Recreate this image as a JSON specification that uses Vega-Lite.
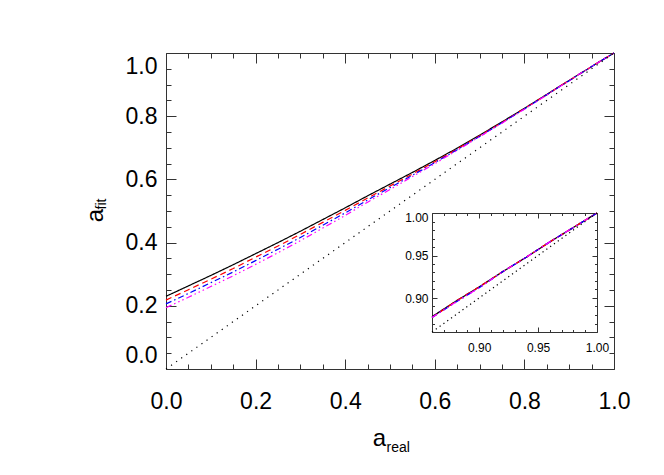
{
  "$schema": "https://vega.github.io/schema/vega-lite/v6.json",
  "width": 448,
  "height": 316,
  "autosize": "none",
  "padding": {"left": 166, "top": 53, "right": 50, "bottom": 106},
  "background": "white",
  "config": {"view": {"stroke": null}},
  "datasets": {
    "curves": [
      {"x":0,"y":0.230,"s":"A"},{"x":0.05,"y":0.263,"s":"A"},{"x":0.1,"y":0.296,"s":"A"},{"x":0.15,"y":0.330,"s":"A"},{"x":0.2,"y":0.365,"s":"A"},{"x":0.25,"y":0.400,"s":"A"},{"x":0.3,"y":0.436,"s":"A"},{"x":0.35,"y":0.473,"s":"A"},{"x":0.4,"y":0.510,"s":"A"},{"x":0.45,"y":0.548,"s":"A"},{"x":0.5,"y":0.585,"s":"A"},{"x":0.55,"y":0.622,"s":"A"},{"x":0.6,"y":0.660,"s":"A"},{"x":0.65,"y":0.699,"s":"A"},{"x":0.7,"y":0.740,"s":"A"},{"x":0.75,"y":0.782,"s":"A"},{"x":0.8,"y":0.825,"s":"A"},{"x":0.85,"y":0.869,"s":"A"},{"x":0.86,"y":0.878,"s":"A"},{"x":0.88,"y":0.896,"s":"A"},{"x":0.9,"y":0.913,"s":"A"},{"x":0.92,"y":0.931,"s":"A"},{"x":0.94,"y":0.948,"s":"A"},{"x":0.96,"y":0.966,"s":"A"},{"x":0.98,"y":0.983,"s":"A"},{"x":1,"y":1,"s":"A"},
      {"x":0,"y":0.218,"s":"B"},{"x":0.05,"y":0.251,"s":"B"},{"x":0.1,"y":0.284,"s":"B"},{"x":0.15,"y":0.318,"s":"B"},{"x":0.2,"y":0.354,"s":"B"},{"x":0.25,"y":0.389,"s":"B"},{"x":0.3,"y":0.426,"s":"B"},{"x":0.35,"y":0.464,"s":"B"},{"x":0.4,"y":0.502,"s":"B"},{"x":0.45,"y":0.541,"s":"B"},{"x":0.5,"y":0.579,"s":"B"},{"x":0.55,"y":0.617,"s":"B"},{"x":0.6,"y":0.656,"s":"B"},{"x":0.65,"y":0.696,"s":"B"},{"x":0.7,"y":0.738,"s":"B"},{"x":0.75,"y":0.780,"s":"B"},{"x":0.8,"y":0.824,"s":"B"},{"x":0.85,"y":0.868,"s":"B"},{"x":0.86,"y":0.877,"s":"B"},{"x":0.88,"y":0.896,"s":"B"},{"x":0.9,"y":0.913,"s":"B"},{"x":0.92,"y":0.931,"s":"B"},{"x":0.94,"y":0.948,"s":"B"},{"x":0.96,"y":0.966,"s":"B"},{"x":0.98,"y":0.983,"s":"B"},{"x":1,"y":1,"s":"B"},
      {"x":0,"y":0.206,"s":"C"},{"x":0.05,"y":0.239,"s":"C"},{"x":0.1,"y":0.273,"s":"C"},{"x":0.15,"y":0.307,"s":"C"},{"x":0.2,"y":0.343,"s":"C"},{"x":0.25,"y":0.379,"s":"C"},{"x":0.3,"y":0.416,"s":"C"},{"x":0.35,"y":0.455,"s":"C"},{"x":0.4,"y":0.494,"s":"C"},{"x":0.45,"y":0.535,"s":"C"},{"x":0.5,"y":0.574,"s":"C"},{"x":0.55,"y":0.613,"s":"C"},{"x":0.6,"y":0.653,"s":"C"},{"x":0.65,"y":0.694,"s":"C"},{"x":0.7,"y":0.736,"s":"C"},{"x":0.75,"y":0.779,"s":"C"},{"x":0.8,"y":0.823,"s":"C"},{"x":0.85,"y":0.868,"s":"C"},{"x":0.86,"y":0.877,"s":"C"},{"x":0.88,"y":0.895,"s":"C"},{"x":0.9,"y":0.912,"s":"C"},{"x":0.92,"y":0.931,"s":"C"},{"x":0.94,"y":0.948,"s":"C"},{"x":0.96,"y":0.966,"s":"C"},{"x":0.98,"y":0.983,"s":"C"},{"x":1,"y":1,"s":"C"},
      {"x":0,"y":0.194,"s":"D"},{"x":0.05,"y":0.227,"s":"D"},{"x":0.1,"y":0.261,"s":"D"},{"x":0.15,"y":0.295,"s":"D"},{"x":0.2,"y":0.331,"s":"D"},{"x":0.25,"y":0.368,"s":"D"},{"x":0.3,"y":0.406,"s":"D"},{"x":0.35,"y":0.446,"s":"D"},{"x":0.4,"y":0.486,"s":"D"},{"x":0.45,"y":0.528,"s":"D"},{"x":0.5,"y":0.568,"s":"D"},{"x":0.55,"y":0.609,"s":"D"},{"x":0.6,"y":0.650,"s":"D"},{"x":0.65,"y":0.692,"s":"D"},{"x":0.7,"y":0.735,"s":"D"},{"x":0.75,"y":0.778,"s":"D"},{"x":0.8,"y":0.822,"s":"D"},{"x":0.85,"y":0.867,"s":"D"},{"x":0.86,"y":0.877,"s":"D"},{"x":0.88,"y":0.895,"s":"D"},{"x":0.9,"y":0.912,"s":"D"},{"x":0.92,"y":0.931,"s":"D"},{"x":0.94,"y":0.948,"s":"D"},{"x":0.96,"y":0.966,"s":"D"},{"x":0.98,"y":0.983,"s":"D"},{"x":1,"y":1,"s":"D"}
    ],
    "diag": [{"x":0,"y":0},{"x":0.86,"y":0.86},{"x":1,"y":1}]
  },
  "layer": [
    {
      "layer": [
        {
          "data": {"name": "curves"},
          "mark": {"type": "line", "strokeWidth": 1.2},
          "encoding": {
            "x": {"field": "x", "type": "quantitative",
              "scale": {"domain": [0, 1], "nice": false, "zero": false},
              "axis": {"orient": "bottom", "grid": false,
                "values": [0,0.05,0.1,0.15,0.2,0.25,0.3,0.35,0.4,0.45,0.5,0.55,0.6,0.65,0.7,0.75,0.8,0.85,0.9,0.95,1],
                "tickSize": {"condition": {"test": "abs(datum.value*5-round(datum.value*5))<0.001", "value": -10}, "value": -5},
                "labelExpr": "abs(datum.value*5-round(datum.value*5))<0.001 ? format(datum.value,'.1f') : ''",
                "labelFont": "Liberation Sans, Arial, sans-serif", "labelFontSize": 23, "labelColor": "black",
                "labelPadding": 31, "labelOverlap": false, "labelFlush": false,
                "domainColor": "#333", "tickColor": "#333", "domainWidth": 1, "tickWidth": 1,
                "title": "a", "titleFont": "Liberation Sans, Arial, sans-serif", "titleFontSize": 24, "titleFontWeight": "normal", "titleColor": "black",
                "titleAlign": "center", "titleBaseline": "alphabetic", "titleAngle": 0, "titleX": 213, "titleY": 76}},
            "y": {"field": "y", "type": "quantitative",
              "scale": {"domain": [0, 1], "nice": false, "zero": false},
              "axis": {"orient": "left", "grid": false,
                "values": [0,0.05,0.1,0.15,0.2,0.25,0.3,0.35,0.4,0.45,0.5,0.55,0.6,0.65,0.7,0.75,0.8,0.85,0.9,0.95,1],
                "tickSize": {"condition": {"test": "abs(datum.value*5-round(datum.value*5))<0.001", "value": -10}, "value": -5},
                "labelExpr": "abs(datum.value*5-round(datum.value*5))<0.001 ? format(datum.value,'.1f') : ''",
                "labelFont": "Liberation Sans, Arial, sans-serif", "labelFontSize": 23, "labelColor": "black",
                "labelPadding": 19, "labelOverlap": false, "labelFlush": true, "labelFlushOffset": -2,
                "domainColor": "#333", "tickColor": "#333", "domainWidth": 1, "tickWidth": 1,
                "title": "a", "titleFont": "Liberation Sans, Arial, sans-serif", "titleFontSize": 24, "titleFontWeight": "normal", "titleColor": "black",
                "titleAlign": "center", "titleBaseline": "alphabetic", "titleAngle": 270, "titleX": -64, "titleY": 162}},
            "color": {"field": "s", "type": "nominal", "legend": null,
              "scale": {"domain": ["A", "B", "C", "D"], "range": ["#000000", "#ff0000", "#0000ff", "#ff00ff"]}},
            "strokeDash": {"field": "s", "type": "nominal", "legend": null,
              "scale": {"domain": ["A", "B", "C", "D"], "range": [[1, 0], [6, 4], [6, 3, 1.5, 3], [6, 3, 1.5, 3, 1.5, 3, 1.5, 3]]}}
          }
        },
        {
          "data": {"name": "diag"},
          "mark": {"type": "line", "strokeWidth": 1.2, "color": "black", "strokeDash": [1.2, 5]},
          "encoding": {
            "x": {"field": "x", "type": "quantitative",
              "axis": {"orient": "top", "grid": false, "labels": false,
                "values": [0,0.05,0.1,0.15,0.2,0.25,0.3,0.35,0.4,0.45,0.5,0.55,0.6,0.65,0.7,0.75,0.8,0.85,0.9,0.95,1],
                "tickSize": {"condition": {"test": "abs(datum.value*5-round(datum.value*5))<0.001", "value": -10}, "value": -5},
                "domainColor": "#333", "tickColor": "#333",
                "title": "real", "titleFont": "Liberation Sans, Arial, sans-serif", "titleFontSize": 14, "titleFontWeight": "normal", "titleColor": "black",
                "titleAlign": "left", "titleBaseline": "alphabetic", "titleAngle": 0, "titleX": 220, "titleY": 398}},
            "y": {"field": "y", "type": "quantitative",
              "axis": {"orient": "right", "grid": false, "labels": false,
                "values": [0,0.05,0.1,0.15,0.2,0.25,0.3,0.35,0.4,0.45,0.5,0.55,0.6,0.65,0.7,0.75,0.8,0.85,0.9,0.95,1],
                "tickSize": {"condition": {"test": "abs(datum.value*5-round(datum.value*5))<0.001", "value": -10}, "value": -5},
                "domainColor": "#333", "tickColor": "#333",
                "title": "fit", "titleFont": "Liberation Sans, Arial, sans-serif", "titleFontSize": 14, "titleFontWeight": "normal", "titleColor": "black",
                "titleAlign": "left", "titleBaseline": "alphabetic", "titleAngle": 270, "titleX": -509, "titleY": 156}}
          }
        }
      ],
      "resolve": {"axis": {"x": "independent", "y": "independent"}}
    },
    {
      "layer": [
        {
          "data": {"name": "curves"},
          "transform": [{"filter": "datum.x >= 0.859"}],
          "mark": {"type": "line", "strokeWidth": 1.3},
          "encoding": {
            "x": {"field": "x", "type": "quantitative",
              "scale": {"domain": [0.86, 1], "range": [266, 431], "nice": false, "zero": false},
              "axis": {"orient": "bottom", "offset": -37, "grid": false,
                "values": [0.86,0.87,0.88,0.89,0.9,0.91,0.92,0.93,0.94,0.95,0.96,0.97,0.98,0.99,1],
                "tickSize": {"condition": {"test": "abs(datum.value*20-round(datum.value*20))<0.001", "value": -5}, "value": -2.5},
                "labelExpr": "abs(datum.value*20-round(datum.value*20))<0.001 ? format(datum.value,'.2f') : ''",
                "labelFont": "Liberation Sans, Arial, sans-serif", "labelFontSize": 12, "labelColor": "black",
                "labelPadding": 15, "labelOverlap": false, "labelFlush": false,
                "domainColor": "#333", "tickColor": "#333", "title": null}},
            "y": {"field": "y", "type": "quantitative",
              "scale": {"domain": [0.86, 1], "range": [279, 160], "nice": false, "zero": false},
              "axis": {"orient": "left", "offset": -266, "grid": false,
                "values": [0.86,0.87,0.88,0.89,0.9,0.91,0.92,0.93,0.94,0.95,0.96,0.97,0.98,0.99,1],
                "tickSize": {"condition": {"test": "abs(datum.value*20-round(datum.value*20))<0.001", "value": -5}, "value": -2.5},
                "labelExpr": "abs(datum.value*20-round(datum.value*20))<0.001 ? format(datum.value,'.2f') : ''",
                "labelFont": "Liberation Sans, Arial, sans-serif", "labelFontSize": 12, "labelColor": "black",
                "labelPadding": 9, "labelOverlap": false, "labelFlush": true, "labelFlushOffset": 1,
                "domainColor": "#333", "tickColor": "#333", "title": null}},
            "color": {"field": "s", "type": "nominal", "legend": null,
              "scale": {"domain": ["A", "B", "C", "D"], "range": ["#000000", "#ff0000", "#0000ff", "#ff00ff"]}},
            "strokeDash": {"field": "s", "type": "nominal", "legend": null,
              "scale": {"domain": ["A", "B", "C", "D"], "range": [[1, 0], [6, 4], [6, 3, 1.5, 3], [6, 3, 1.5, 3, 1.5, 3, 1.5, 3]]}}
          }
        },
        {
          "data": {"name": "diag"},
          "transform": [{"filter": "datum.x >= 0.859"}],
          "mark": {"type": "line", "strokeWidth": 1.2, "color": "black", "strokeDash": [1.2, 3.5]},
          "encoding": {
            "x": {"field": "x", "type": "quantitative",
              "axis": {"orient": "top", "offset": -160, "grid": false, "labels": false,
                "values": [0.86,0.87,0.88,0.89,0.9,0.91,0.92,0.93,0.94,0.95,0.96,0.97,0.98,0.99,1],
                "tickSize": {"condition": {"test": "abs(datum.value*20-round(datum.value*20))<0.001", "value": -5}, "value": -2.5},
                "domainColor": "#333", "tickColor": "#333", "title": null}},
            "y": {"field": "y", "type": "quantitative",
              "axis": {"orient": "right", "offset": -17, "grid": false, "labels": false,
                "values": [0.86,0.87,0.88,0.89,0.9,0.91,0.92,0.93,0.94,0.95,0.96,0.97,0.98,0.99,1],
                "tickSize": {"condition": {"test": "abs(datum.value*20-round(datum.value*20))<0.001", "value": -5}, "value": -2.5},
                "domainColor": "#333", "tickColor": "#333", "title": null}}
          }
        }
      ],
      "resolve": {"axis": {"x": "independent", "y": "independent"}}
    }
  ],
  "resolve": {"scale": {"x": "independent", "y": "independent"}, "axis": {"x": "independent", "y": "independent"}}
}
